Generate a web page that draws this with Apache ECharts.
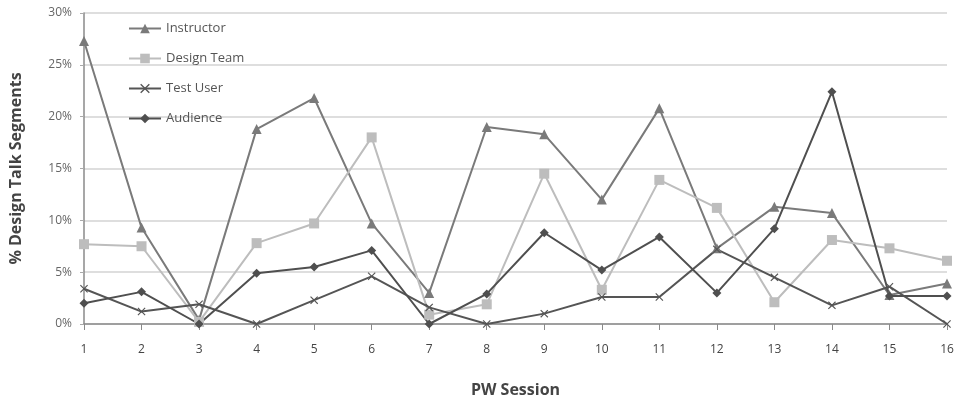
<!DOCTYPE html>
<html>
<head>
<meta charset="utf-8">
<script src="https://cdn.jsdelivr.net/npm/echarts@6/dist/echarts.min.js"></script>
<style>
  html, body { margin: 0; padding: 0; background: #fff; }
  #main { width: 962px; height: 400px; }
</style>
</head>
<body>
<div id="main"></div>
<script>
var sessions = ['1', '2', '3', '4', '5', '6', '7', '8', '9', '10', '11', '12', '13', '14', '15', '16'];
var yTicks = [0, 5, 10, 15, 20, 25, 30];

// % of design talk segments per session
var instructor = [27.3, 9.3, 0.4, 18.8, 21.8, 9.7, 3.0, 19.0, 18.3, 12.0, 20.8, 7.3, 11.3, 10.7, 2.8, 3.9];
var designTeam = [7.7, 7.5, 0.2, 7.8, 9.7, 18.0, 0.9, 1.9, 14.5, 3.3, 13.9, 11.2, 2.1, 8.1, 7.3, 6.1];
var testUser = [3.4, 1.2, 1.9, 0, 2.3, 4.6, 1.6, 0, 1.0, 2.6, 2.6, 7.2, 4.5, 1.8, 3.6, 0];
var audience = [2.0, 3.1, 0, 4.9, 5.5, 7.1, 0, 2.9, 8.8, 5.2, 8.4, 3.0, 9.2, 22.4, 2.7, 2.7];

var xMark = 'path://M0,1L1,0L5,4L9,0L10,1L6,5L10,9L9,10L5,6L1,10L0,9L4,5Z';

var myChart = echarts.init(document.getElementById('main'));

function line(name, data, color, symbol, size) {
    return {
        name: name,
        type: 'line',
        data: data,
        symbol: symbol,
        symbolSize: size,
        showSymbol: true,
        lineStyle: { color: color, width: 2 },
        itemStyle: { color: color },
        animation: false
    };
}

myChart.setOption({
    textStyle: { fontFamily: 'Open Sans' },
    grid: {
        left: 84,
        right: 15,
        top: 13,
        bottom: 76,
        containLabel: false,
        outerBoundsMode: 'none'
    },
    legend: {
        orient: 'vertical',
        left: 123,
        top: 17,
        itemGap: 17,
        itemWidth: 32,
        itemHeight: 12,
        itemTextGap: 4,
        textStyle: { color: '#555', fontSize: 13 },
        data: ['Instructor', 'Design Team', 'Test User', 'Audience']
    },
    xAxis: {
        type: 'category',
        boundaryGap: false,
        data: sessions,
        name: 'PW Session',
        nameLocation: 'middle',
        nameGap: 58,
        nameTextStyle: { fontSize: 16, fontWeight: 'bold', color: '#444' },
        axisLine: { lineStyle: { color: '#8a8a8a', width: 1.5 } },
        axisTick: { show: true, length: 6, lineStyle: { color: '#8a8a8a' } },
        axisLabel: { color: '#444', fontSize: 12, margin: 20 }
    },
    yAxis: {
        type: 'value',
        min: yTicks[0],
        max: yTicks[yTicks.length - 1],
        interval: 5,
        name: '% Design Talk Segments',
        nameLocation: 'middle',
        nameGap: 60,
        nameTextStyle: { fontSize: 16, fontWeight: 'bold', color: '#444' },
        axisLine: { show: true, lineStyle: { color: '#8a8a8a', width: 1.5 } },
        axisTick: { show: true, length: 4, lineStyle: { color: '#aaa' } },
        axisLabel: { color: '#666', fontSize: 12, margin: 12, formatter: '{value}%' },
        splitLine: { lineStyle: { color: '#d3d3d3', width: 1.5 } }
    },
    series: [
        line('Instructor', instructor, '#7a7a7a', 'triangle', 10),
        line('Design Team', designTeam, '#bdbdbd', 'rect', 10),
        line('Test User', testUser, '#555555', xMark, 8),
        line('Audience', audience, '#4f4f4f', 'diamond', 9)
    ]
});
</script>
</body>
</html>
